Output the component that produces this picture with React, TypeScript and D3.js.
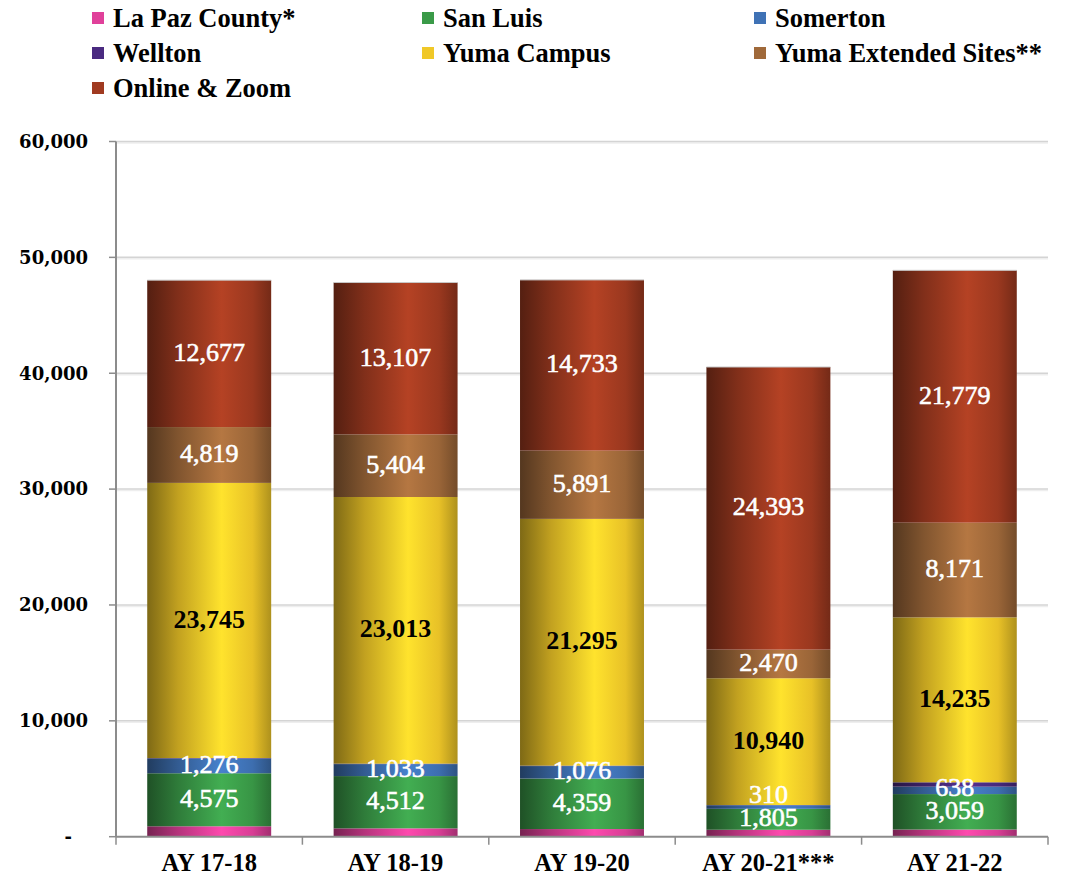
import React from "react";
import * as d3 from "d3";

const categories = ["AY 17-18", "AY 18-19", "AY 19-20", "AY 20-21***", "AY 21-22"];
const seriesNames = ["La Paz County*", "San Luis", "Somerton", "Wellton", "Yuma Campus", "Yuma Extended Sites**", "Online & Zoom"];
const seriesColors = ["#e0409a", "#3a9a48", "#3f72b5", "#4a2a80", "#f0c828", "#a0693a", "#a03a20"];
const laPaz = [900, 720, 660, 600, 620];
const sanLuis = [4575, 4512, 4359, 1805, 3059];
const somerton = [1276, 1033, 1076, 310, 638];
const wellton = [40, 40, 40, 20, 380];
const yumaCampus = [23745, 23013, 21295, 10940, 14235];
const yumaExt = [4819, 5404, 5891, 2470, 8171];
const online = [12677, 13107, 14733, 24393, 21779];
const labeled = [false, true, true, false, true, true, true];
const yTicks = [0, 10000, 20000, 30000, 40000, 50000, 60000];

const W = 1091, H = 881;
const left = 116, right = 1048, top = 141.5, bottom = 836.7;
const serif = "'Liberation Serif', 'Times New Roman', serif";

export default function App() {
  const values = [laPaz, sanLuis, somerton, wellton, yumaCampus, yumaExt, online];
  const x = d3.scaleBand<string>().domain(categories).range([left, right]).paddingInner(0.335).paddingOuter(0.1675);
  const y = d3.scaleLinear().domain([0, 60000]).range([bottom, top]);
  const fmt = d3.format(",");
  const data = categories.map((c, i) => {
    const o: any = { cat: c };
    seriesNames.forEach((s, j) => (o[s] = values[j][i]));
    return o;
  });
  const stack = d3.stack<any>().keys(seriesNames)(data);

  const grads = seriesColors.map((c, i) => {
    const base = d3.color(c)!;
    return {
      id: "g" + i,
      stops: [
        [0, base.darker(1.8).formatHex()],
        [0.25, base.darker(0.6).formatHex()],
        [0.6, base.brighter(0.35).formatHex()],
        [0.85, base.darker(0.1).formatHex()],
        [1, base.darker(0.9).formatHex()],
      ],
    };
  });

  // label positions: centered in segment, nudged up to avoid overlapping the label below
  const labels: { x: number; y: number; v: number; j: number }[] = [];
  categories.forEach((c, i) => {
    let prev = Infinity;
    stack.forEach((layer, j) => {
      if (!labeled[j]) return;
      const d = layer[i];
      let cy = (y(d[0]) + y(d[1])) / 2 - 2;
      if (prev - cy < 23) cy = prev - 23;
      prev = cy;
      labels.push({ x: x(c)! + x.bandwidth() / 2, y: cy, v: values[j][i], j });
    });
  });

  const legendCols = [92, 422, 754];
  const legendRows = [18, 53, 88];

  return (
    <svg width={W} height={H} style={{ position: "absolute", left: 0, top: 0, background: "#fff" }}>
      <defs>
        {grads.map((g) => (
          <linearGradient key={g.id} id={g.id} x1="0" x2="1" y1="0" y2="0">
            {g.stops.map(([o, c], k) => (
              <stop key={k} offset={o as number} stopColor={c as string} />
            ))}
          </linearGradient>
        ))}
      </defs>
      {/* legend */}
      {seriesNames.map((s, i) => {
        const cx = legendCols[i % 3];
        const cy = legendRows[Math.floor(i / 3)];
        return (
          <g key={s}>
            <rect x={cx} y={cy - 6} width={12} height={12} fill={seriesColors[i]} />
            <text x={cx + 21} y={cy} dy="0.35em" fontFamily={serif} fontWeight="bold" fontSize={26.5} fill="#000">
              {s}
            </text>
          </g>
        );
      })}
      {/* gridlines */}
      {yTicks.slice(1).map((t) => (
        <g key={t}>
          <line x1={left} x2={right} y1={y(t) + 1.5} y2={y(t) + 1.5} stroke="#eeeeee" strokeWidth={1.5} />
          <line x1={left} x2={right} y1={y(t)} y2={y(t)} stroke="#d4d4d4" strokeWidth={1.5} />
        </g>
      ))}
      {/* y axis */}
      <line x1={left} x2={left} y1={top} y2={bottom} stroke="#8c8c8c" strokeWidth={2} />
      {yTicks.map((t) => (
        <g key={t}>
          <line x1={left - 7} x2={left} y1={y(t)} y2={y(t)} stroke="#8c8c8c" strokeWidth={1.5} />
          <text
            x={t === 0 ? 72 : 88}
            y={y(t)}
            dy="0.35em"
            textAnchor="end"
            fontFamily="DejaVu Serif"
            fontWeight="bold"
            fontSize={18}
            fill="#000"
          >
            {t === 0 ? "-" : fmt(t)}
          </text>
        </g>
      ))}
      {/* bars */}
      {stack.map((layer, j) =>
        layer.map((d, i) => {
          const bx = x(categories[i])!;
          const bw = x.bandwidth();
          const y0 = y(d[0]);
          const y1 = y(d[1]);
          return (
            <rect key={j + "-" + i} x={bx} y={y1} width={bw} height={Math.max(0, y0 - y1)} fill={`url(#g${j})`} />
          );
        })
      )}
      {/* bar top edges */}
      {stack[stack.length - 1].map((d, i) => (
        <line key={"t" + i} x1={x(categories[i])!} x2={x(categories[i])! + x.bandwidth()} y1={y(d[1])} y2={y(d[1])} stroke="#c8c8c8" strokeWidth={1} />
      ))}
      {/* x axis */}
      <line x1={left} x2={right} y1={bottom} y2={bottom} stroke="#8c8c8c" strokeWidth={2} />
      {d3.range(categories.length + 1).map((k) => {
        const xx = left + ((right - left) / categories.length) * k;
        return <line key={k} x1={xx} x2={xx} y1={bottom} y2={bottom + 8} stroke="#8c8c8c" strokeWidth={1.5} />;
      })}
      {categories.map((c) => (
        <text key={c} x={x(c)! + x.bandwidth() / 2} y={862} dy="0.35em" textAnchor="middle" fontFamily={serif} fontWeight="bold" fontSize={24.5} fill="#000">
          {c}
        </text>
      ))}
      {/* data labels */}
      {labels.map((l, k) => {
        const isYuma = l.j === 4;
        return (
          <text
            key={"l" + k}
            x={l.x}
            y={l.y}
            dy="0.35em"
            textAnchor="middle"
            fontFamily={serif}
            fontWeight={isYuma ? "bold" : "normal"}
            fontSize={26}
            fill={isYuma ? "#000" : "#fff"}
            stroke={isYuma ? "none" : "#fff"}
            strokeWidth={isYuma ? 0 : 0.6}
          >
            {fmt(l.v)}
          </text>
        );
      })}
    </svg>
  );
}
